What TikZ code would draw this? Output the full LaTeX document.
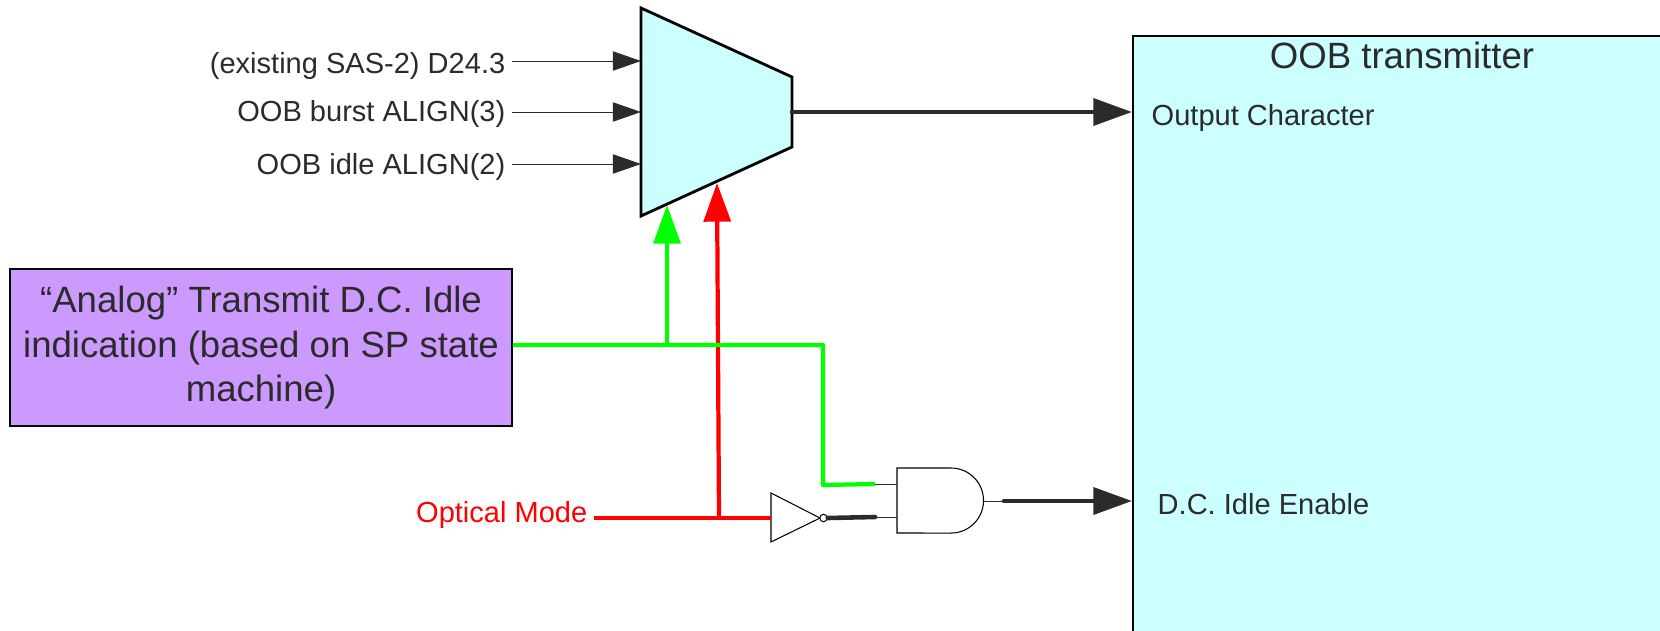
\documentclass[tikz,border=0pt]{standalone}
\usepackage{xcolor}
\usepackage{fontspec}
\setmainfont{Liberation Sans}
\usetikzlibrary{arrows.meta,positioning,calc}
\definecolor{paleblue}{HTML}{CCFFFF}
\definecolor{palepurple}{HTML}{CC99FF}
\definecolor{darkgrey}{HTML}{2B2B2B}
\definecolor{sigred}{HTML}{FF0000}
\definecolor{siggreen}{HTML}{00FF00}
\tikzset{
  siglabel/.style={text=darkgrey,inner ysep=0pt,inner xsep=0.06cm,font=\fontsize{8.26}{10}\selectfont},
  thinwire/.style={draw=darkgrey,line width=0.25pt},
  thinarrow/.style={thinwire,-{Triangle[length=8pt,width=5.5pt]}},
  thickwire/.style={draw=darkgrey,line width=1.3pt,line cap=round},
  thickarrow/.style={thickwire,-{Triangle[length=11pt,width=7.6pt]}},
  redwire/.style={draw=sigred,line width=1.2pt},
  greenwire/.style={draw=siggreen,line width=1.2pt},
  redarrow/.style={redwire,-{Triangle[length=11pt,width=7.6pt]}},
  greenarrow/.style={greenwire,-{Triangle[length=11pt,width=7.6pt]}},
  gate/.style={draw=black,line width=0.3pt,fill=white}
}
\begin{document}
\begin{tikzpicture}[x=0.01cm,y=-0.01cm]
  \clip (0,0) rectangle (1660,630);

  % OOB transmitter
  \node[draw=black,line width=0.7pt,fill=paleblue,anchor=north west,minimum width=5.8cm,minimum height=6.4cm] (oob) at (1132,35) {};
  \node[text=darkgrey,font=\fontsize{10.4}{12}\selectfont] (oobtitle) at (1402,55) {OOB transmitter};
  \node[siglabel,anchor=west] (outchar) at (1145,118) {Output Character};
  \node[siglabel,anchor=west] (idleen) at (1151,504) {D.C. Idle Enable};
  \coordinate (outin) at (1132,112);
  \coordinate (idlein) at (1132,501);

  % Mux
  \coordinate (muxa) at (641,8);
  \coordinate (muxb) at (792,77);
  \coordinate (muxc) at (792,147);
  \coordinate (muxd) at (641,216);
  \draw[line width=0.8pt,fill=paleblue,line join=miter] (muxa) -- (muxb) -- (muxc) -- (muxd) -- cycle;
  \coordinate (muxout) at (792,112);
  \coordinate (muxin1) at (641,61);
  \coordinate (muxin2) at (641,112);
  \coordinate (muxin3) at (641,164);
  \coordinate (muxgreen) at (667,205);
  \coordinate (muxred) at (717,183);

  % Mux inputs
  \node[siglabel,anchor=east] (d243) at (512,66) {(existing SAS-2) D24.3};
  \node[siglabel,anchor=east] (burst) at (512,114) {OOB burst ALIGN(3)};
  \node[siglabel,anchor=east] (idle) at (512,167) {OOB idle ALIGN(2)};
  \draw[thinarrow] (d243.east |- muxin1) -- (muxin1);
  \draw[thinarrow] (burst.east |- muxin2) -- (muxin2);
  \draw[thinarrow] (idle.east |- muxin3) -- (muxin3);
  \draw[thickarrow] (muxout) -- (outin);

  % Analog indication
  \node[draw=black,line width=0.5pt,fill=palepurple,anchor=north west,minimum width=5.02cm,minimum height=1.57cm,align=center,inner sep=0pt,text=darkgrey,font=\fontsize{10.4}{12.4}\selectfont] (analog) at (9,268) {“Analog” Transmit D.C. Idle\\[0.3pt]indication (based on SP state\\machine)};

  % Gates
  \coordinate (inva) at (771,493);
  \coordinate (invb) at (820,518);
  \coordinate (invc) at (771,542);
  \draw[gate] (inva) -- (invb) -- (invc) -- cycle;
  \coordinate (andnw) at (897,468);
  \coordinate (andsw) at (897,533);
  \coordinate (andout) at (983,501);
  \draw[gate] (andnw) -- (951,468) arc[start angle=90,end angle=-90,radius=0.325cm] -- (andsw) -- cycle;
  \coordinate (andin1) at (897,484);
  \coordinate (andin2) at (897,517);

  % Optical mode
  \node[siglabel,text=sigred,anchor=east] (optical) at (594,515) {Optical Mode};
  \coordinate (optj) at (719,518);
  \coordinate (optmux) at (717,183);
  \draw[redwire] (optical.east |- optj) -- (inva |- optj);
  \draw[redarrow] (optj) -- (optmux);

  % Analog wires
  \coordinate (analogj) at (667,345);
  \coordinate (analogk) at (823,345);
  \coordinate (analogl) at (823,485);
  \coordinate (analogm) at (875,484);
  \draw[greenwire,line join=round] (analog.east |- analogj) -- (analogk) -- (analogl) -- (analogm);
  \draw[greenarrow] (analogj) -- (muxgreen);

  % Gate wires
  \node[draw=black,line width=0.3pt,circle,inner sep=0pt,minimum size=2.1pt,fill=white] (bubble) at (823.5,518) {};
  \coordinate (invout) at (875,517);
  \coordinate (idlestart) at (1004,501);
  \draw[thinwire] (analogm) -- (andin1);
  \draw[thinwire] (invout) -- (andin2);
  \draw[thickwire] (bubble.east) -- (invout);
  \draw[thinwire] (andout) -- (idlestart);
  \draw[thickarrow] (idlestart) -- (idlein);
\end{tikzpicture}
\end{document}
